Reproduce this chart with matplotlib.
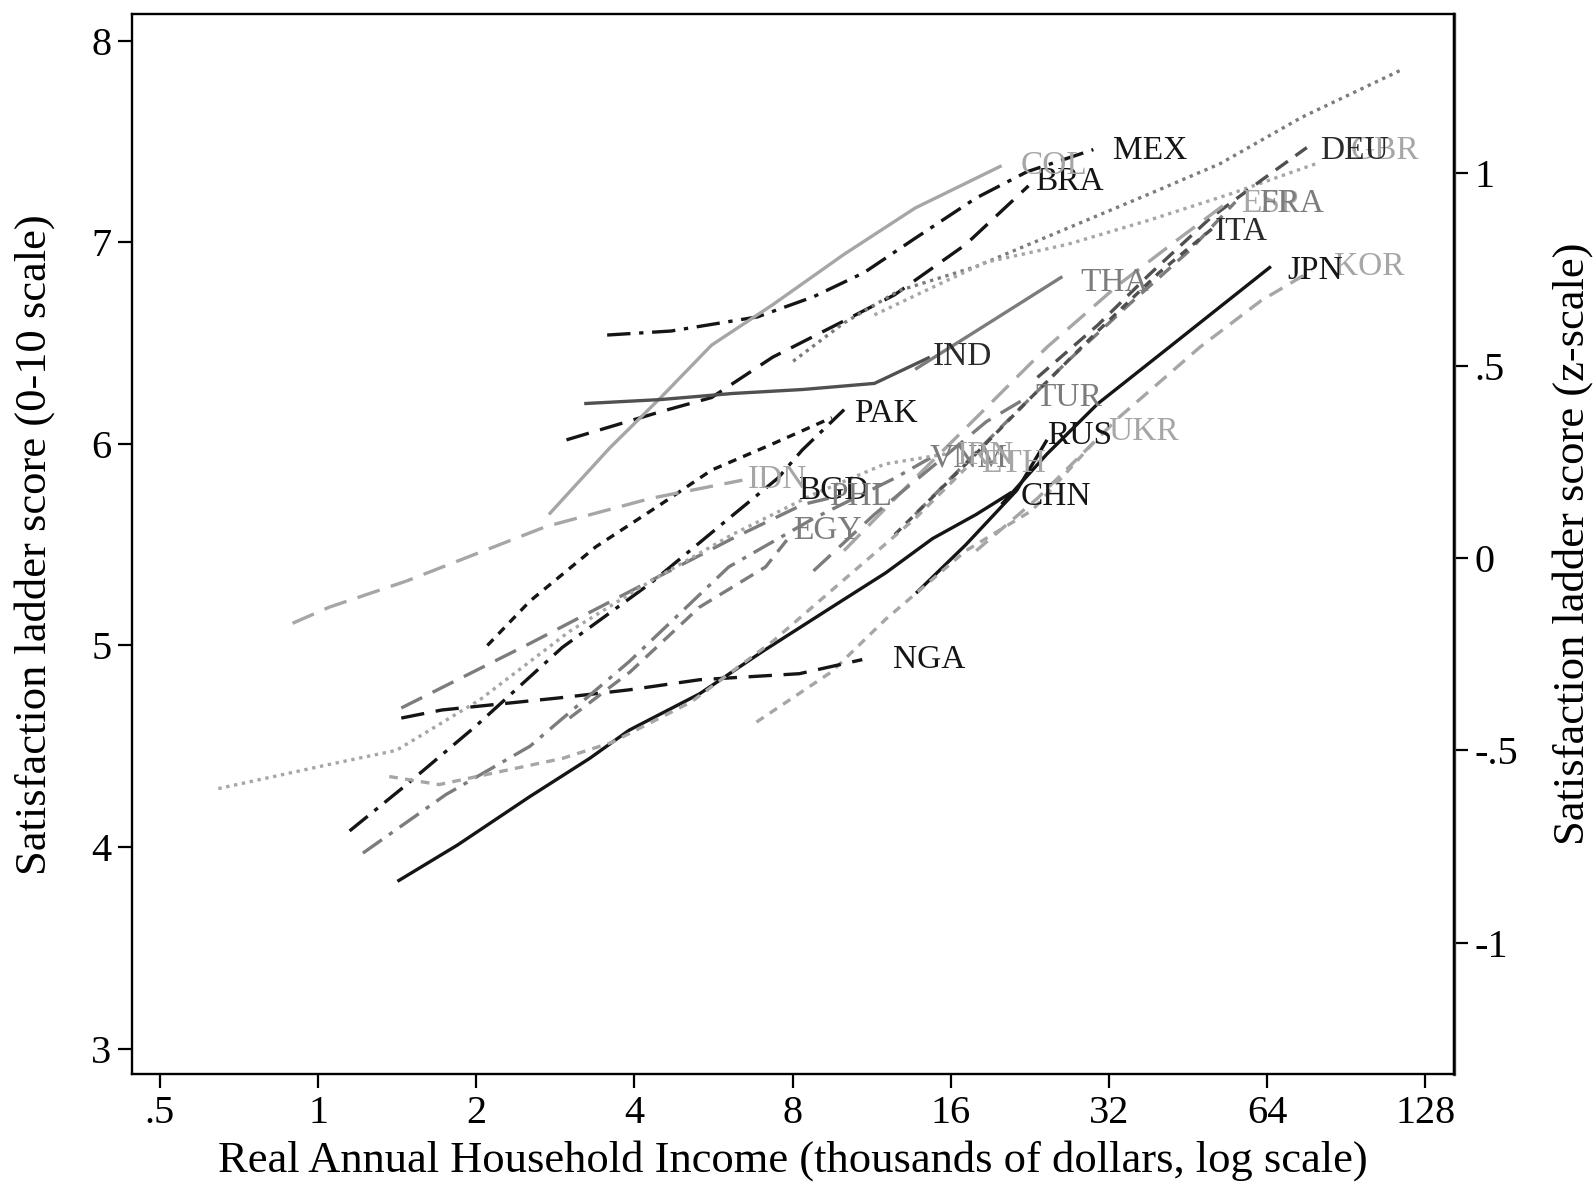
import matplotlib
matplotlib.use("Agg")
import matplotlib.pyplot as plt
from matplotlib.ticker import FixedLocator, FixedFormatter, NullLocator

plt.rcParams['font.family'] = ['Liberation Serif', 'DejaVu Serif']

# ---------------- data (income in thousands of dollars, ladder score 0-10) ----------------
countries = ["MEX", "BRA", "COL", "IND", "THA", "USA", "GBR", "DEU", "ESP", "FRA", "ITA",
             "TUR", "KOR", "JPN", "RUS", "UKR", "CHN", "NGA", "PAK", "BGD", "IDN", "PHL",
             "EGY", "VNM", "IRN", "ETH"]

income = {
    "MEX": [3.55, 4.70, 6.86, 8.77, 10.95, 13.69, 17.89, 22.35, 29.9],
    "BRA": [2.97, 4.49, 5.61, 7.33, 10.02, 12.52, 17.1, 22.5],
    "COL": [2.75, 3.59, 4.49, 5.61, 7.33, 10.02, 13.69, 20.0],
    "IND": [3.21, 4.49, 6.14, 8.38, 11.45, 14.6],
    "THA": [13.69, 17.89, 26.1],
    "USA": [8.02, 10.02, 12.75, 17.89, 26.7, 38.2, 52.1, 74.5, 116.3],
    "GBR": [11.45, 18.6, 26.7, 38.2, 54.5, 79.3],
    "DEU": [23.4, 30.5, 38.2, 49.9, 62.6, 76.2],
    "ESP": [10.02, 13.69, 17.89, 24.4, 33.4, 43.6, 53.3],
    "FRA": [13.69, 19.55, 26.7, 34.9, 45.6, 55.7],
    "ITA": [12.52, 17.1, 22.35, 30.5, 39.9, 51.0],
    "TUR": [8.77, 11.45, 14.97, 18.7, 22.35],
    "KOR": [17.89, 23.4, 33.4, 47.7, 62.3, 77.9],
    "JPN": [20.0, 24.4, 30.5, 41.7, 52.1, 65.1],
    "RUS": [13.75, 17.1, 21.38, 24.4],
    "UKR": [6.83, 9.50, 12.03, 17.1, 22.85, 30.5],
    "CHN": [1.416, 1.842, 2.528, 3.288, 3.91, 5.32, 7.01, 9.50, 12.03, 14.77, 17.89, 20.9],
    "NGA": [1.44, 1.72, 2.876, 3.91, 5.32, 8.24, 10.86],
    "PAK": [2.10, 2.53, 3.38, 4.49, 5.61, 7.33, 9.50],
    "BGD": [1.148, 1.474, 1.996, 2.915, 4.30, 6.05, 7.50, 8.35, 10.03],
    "IDN": [0.894, 1.05, 1.474, 2.715, 4.30, 6.42],
    "PHL": [1.44, 2.53, 4.51, 6.14, 8.38, 9.37],
    "EGY": [3.01, 3.93, 5.32, 7.11, 7.84],
    "VNM": [1.217, 1.75, 2.53, 3.91, 6.05, 8.77, 12.52, 14.63],
    "IRN": [0.646, 1.05, 1.41, 2.03, 3.01, 4.30, 6.14, 8.77, 11.98, 15.65],
    "ETH": [1.366, 1.70, 2.18, 2.92, 3.63, 5.13, 7.33, 10.48, 13.69, 17.1],
}

ladder = {
    "MEX": [6.54, 6.56, 6.63, 6.73, 6.85, 7.02, 7.22, 7.35, 7.46],
    "BRA": [6.02, 6.16, 6.23, 6.43, 6.61, 6.74, 6.99, 7.28],
    "COL": [5.65, 5.98, 6.23, 6.49, 6.69, 6.94, 7.17, 7.38],
    "IND": [6.20, 6.22, 6.25, 6.27, 6.30, 6.43],
    "THA": [6.37, 6.56, 6.83],
    "USA": [6.41, 6.60, 6.76, 6.88, 7.07, 7.24, 7.39, 7.62, 7.86],
    "GBR": [6.64, 6.90, 6.99, 7.11, 7.24, 7.39],
    "DEU": [6.33, 6.59, 6.84, 7.12, 7.31, 7.47],
    "ESP": [5.47, 5.83, 6.13, 6.48, 6.79, 7.02, 7.19],
    "FRA": [5.65, 6.06, 6.41, 6.69, 6.96, 7.20],
    "ITA": [5.55, 5.90, 6.21, 6.56, 6.85, 7.08],
    "TUR": [5.37, 5.65, 5.90, 6.11, 6.23],
    "KOR": [5.47, 5.73, 6.13, 6.48, 6.71, 6.86],
    "JPN": [5.70, 5.95, 6.20, 6.48, 6.68, 6.88],
    "RUS": [5.26, 5.50, 5.77, 6.02],
    "UKR": [4.62, 4.87, 5.13, 5.47, 5.67, 6.03],
    "CHN": [3.83, 4.01, 4.25, 4.44, 4.58, 4.76, 4.97, 5.19, 5.36, 5.53, 5.65, 5.76],
    "NGA": [4.64, 4.68, 4.74, 4.78, 4.83, 4.86, 4.93],
    "PAK": [5.00, 5.22, 5.49, 5.70, 5.87, 6.00, 6.13],
    "BGD": [4.08, 4.31, 4.60, 4.99, 5.31, 5.63, 5.83, 5.97, 6.17],
    "IDN": [5.11, 5.19, 5.32, 5.59, 5.73, 5.82],
    "PHL": [4.69, 5.01, 5.35, 5.53, 5.70, 5.73],
    "EGY": [4.64, 4.87, 5.19, 5.39, 5.53],
    "VNM": [3.97, 4.26, 4.50, 4.92, 5.39, 5.63, 5.83, 5.93],
    "IRN": [4.29, 4.41, 4.48, 4.73, 5.07, 5.32, 5.55, 5.75, 5.90, 5.95],
    "ETH": [4.35, 4.31, 4.37, 4.44, 4.52, 4.72, 5.02, 5.37, 5.63, 5.88],
}

# label anchors (left edge, vertical centre) in data coordinates
label_x = {"MEX": 32.6, "BRA": 23.2, "COL": 21.7, "IND": 14.8, "THA": 28.2, "USA": None,
           "GBR": 92.3, "DEU": 80.7, "ESP": 57.0, "FRA": 61.8, "ITA": 51.0, "TUR": 23.2,
           "KOR": 85.9, "JPN": 70.0, "RUS": 24.4, "UKR": 31.9, "CHN": 21.7, "NGA": 12.4,
           "PAK": 10.48, "BGD": 8.20, "IDN": 6.56, "PHL": 9.37, "EGY": 8.02, "VNM": 14.6,
           "IRN": 16.4, "ETH": 18.3}
label_y = {"MEX": 7.455, "BRA": 7.30, "COL": 7.38, "IND": 6.43, "THA": 6.80, "USA": None,
           "GBR": 7.455, "DEU": 7.455, "ESP": 7.19, "FRA": 7.19, "ITA": 7.05, "TUR": 6.23,
           "KOR": 6.88, "JPN": 6.86, "RUS": 6.04, "UKR": 6.06, "CHN": 5.74, "NGA": 4.93,
           "PAK": 6.15, "BGD": 5.77, "IDN": 5.82, "PHL": 5.74, "EGY": 5.57, "VNM": 5.93,
           "IRN": 5.94, "ETH": 5.90}

x_ticks = [0.5, 1, 2, 4, 8, 16, 32, 64, 128]
x_ticklabels = [".5", "1", "2", "4", "8", "16", "32", "64", "128"]
y_ticks = [3, 4, 5, 6, 7, 8]
z_ticks = [-1, -0.5, 0, 0.5, 1]
z_ticklabels = ["-1", "-.5", "0", ".5", "1"]
z_mean, z_sd = 5.434, 1.909

# ---------------- styles ----------------
BLACK, DGRAY, GRAY, LGRAY = "#151515", "#505050", "#7c7c7c", "#a6a6a6"
LONG = (0, (7, 3.5))
DASH = (0, (4.5, 2.8))
SHORT = (0, (2.6, 2.2))
DDOT = (0, (7, 2.6, 1.3, 2.6))
DOT = (0, (1, 1.4))
style = {
    "MEX": (BLACK, DDOT), "BRA": (BLACK, LONG), "COL": (LGRAY, "-"), "IND": (DGRAY, "-"),
    "THA": (GRAY, "-"), "USA": (GRAY, DOT), "GBR": (LGRAY, DOT), "DEU": (DGRAY, DASH),
    "ESP": (LGRAY, LONG), "FRA": (GRAY, DASH), "ITA": (DGRAY, SHORT), "TUR": (GRAY, LONG),
    "KOR": (LGRAY, DASH), "JPN": (BLACK, "-"), "RUS": (BLACK, "-"), "UKR": (LGRAY, SHORT),
    "CHN": (BLACK, "-"), "NGA": (BLACK, LONG), "PAK": (BLACK, SHORT), "BGD": (BLACK, DDOT),
    "IDN": (LGRAY, LONG), "PHL": (GRAY, LONG), "EGY": (GRAY, DASH), "VNM": (GRAY, DDOT),
    "IRN": (LGRAY, DOT), "ETH": (LGRAY, SHORT),
}

fig = plt.figure(figsize=(15.96, 11.93), dpi=100)
ax = fig.add_axes([0.0829, 0.0997, 0.8279, 0.8883])

for c in countries:
    col, ls = style[c]
    ax.plot(income[c], ladder[c], color=col, linestyle=ls, lw=2.4, solid_capstyle='butt')
    if label_x[c] is not None:
        ax.text(label_x[c], label_y[c], c, color=col if col != DGRAY else "#2a2a2a",
                fontsize=24, ha='left', va='center')

ax.set_xscale('log', base=2)
ax.set_xlim(0.443, 145)
ax.set_ylim(2.874, 8.131)
ax.xaxis.set_major_locator(FixedLocator(x_ticks))
ax.xaxis.set_major_formatter(FixedFormatter(x_ticklabels))
ax.xaxis.set_minor_locator(NullLocator())
ax.set_yticks(y_ticks)
ax.set_yticklabels([str(v) for v in y_ticks])

ax.tick_params(axis='both', which='major', direction='out', length=10, width=1.6,
               labelsize=29, pad=5, color='black')
for s in ax.spines.values():
    s.set_linewidth(1.7)
    s.set_color('black')

ax.set_xlabel("Real Annual Household Income (thousands of dollars, log scale)",
              fontsize=32, labelpad=6)
ax.set_ylabel("Satisfaction ladder score (0-10 scale)", fontsize=32, labelpad=26)

sec = ax.secondary_yaxis('right', functions=(lambda y: (y - z_mean) / z_sd,
                                              lambda z: z * z_sd + z_mean))
sec.set_yticks(z_ticks)
sec.set_yticklabels(z_ticklabels)
sec.tick_params(direction='out', length=10, width=1.6, labelsize=29, pad=5)
sec.spines['right'].set_linewidth(2.4)
sec.spines['right'].set_color('#444444')
sec.set_ylabel("Satisfaction ladder score (z-scale)", fontsize=32, labelpad=24)

fig.savefig("out.png", dpi=100, facecolor='white')
